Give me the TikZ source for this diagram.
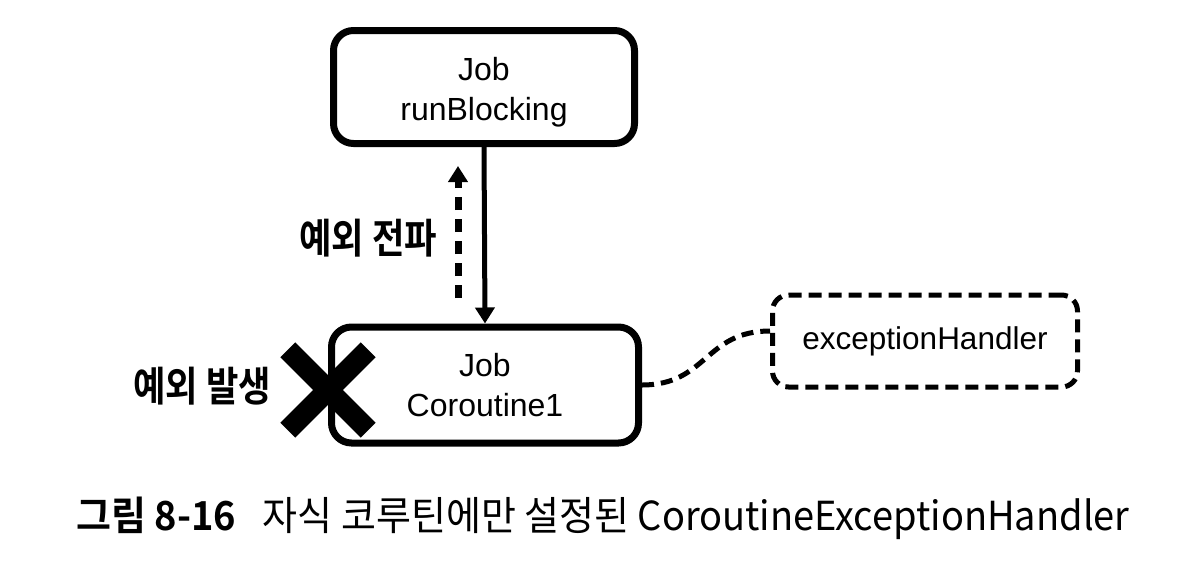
\documentclass[tikz,border=0pt]{standalone}
\usepackage{fontspec}
\setmainfont{Liberation Sans}
\newfontfamily\krfont{Noto Sans CJK KR}[BoldFont={Noto Sans CJK KR Bold}]
\usetikzlibrary{arrows.meta}
\newcommand{\krlab}[1]{\scalebox{0.86}[1]{#1}}
\begin{document}
\begin{tikzpicture}[x=1pt,y=-1pt,
  jobbox/.style={draw,line width=7pt,rounded corners=20pt,align=center,
    font=\fontsize{32}{40}\selectfont,inner sep=0pt},
  dashbox/.style={draw,line width=5pt,dash pattern=on 13pt off 7pt,rounded corners=16pt,
    font=\fontsize{31.5}{39}\selectfont,inner sep=0pt},
  krlabel/.style={font=\krfont\bfseries\fontsize{41}{44}\selectfont,inner sep=0pt},
  tip/.style={-{Triangle[length=16pt,width=19pt]}}
]
\useasboundingbox (0,0) rectangle (1192,574);
\node[jobbox,minimum width=301pt,minimum height=113pt] (top) at (484,87)
  {\raisebox{-12pt}[0pt][0pt]{\begin{tabular}{@{}c@{}}Job\\runBlocking\end{tabular}}};
\node[jobbox,minimum width=307pt,minimum height=116pt] (bot) at (485,385) {Job\\Coroutine1};
\node[dashbox,minimum width=305pt,minimum height=92pt] (handler) at (925,341) {exceptionHandler};
\draw[line width=5pt,tip] (top.south) -- (bot.north);
\coordinate (dlow) at (458,298);
\coordinate (dhigh) at (458,166);
\draw[line width=7pt,dash pattern=on 13pt off 9pt,tip] (dlow) -- (dhigh);
\node[krlabel] (prop) at (368,238) {\krlab{예외 전파}};
\node[krlabel] (occur) at (202,386) {\krlab{예외 발생}};
\node[minimum size=80pt,inner sep=0pt] (xmark) at (328,390) {};
\draw[line width=21pt] (xmark.north west) -- (xmark.south east)
  (xmark.north east) -- (xmark.south west);
\draw[line width=5pt,dash pattern=on 12pt off 7pt]
  (bot.east) .. controls +(65,0) and +(-65,0) .. ([yshift=10pt]handler.west);
\node[inner sep=0pt,font=\krfont\fontsize{40}{44}\selectfont] (cap) at (603,518)
  {\scalebox{0.95}[1]{\textbf{그림 8-16}\hspace{0.7em}자식 코루틴에만 설정된 CoroutineExceptionHandler}};
\end{tikzpicture}
\end{document}
